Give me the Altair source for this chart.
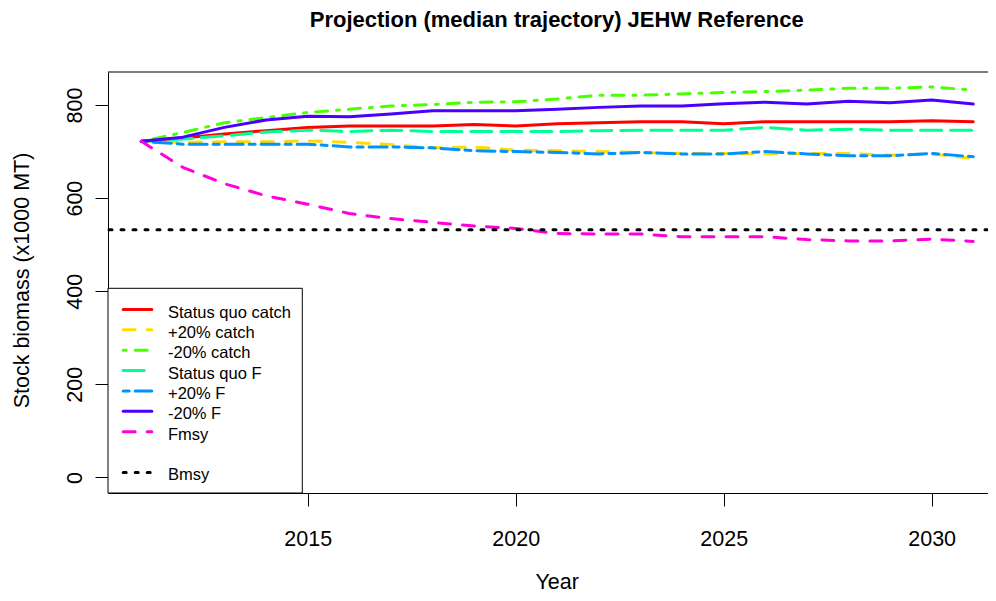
import altair as alt
import pandas as pd

# ---------------- data ----------------
years = list(range(2011, 2032))

status_quo_catch = [722, 729, 738, 745, 752, 755, 755, 755, 758, 755, 760, 762, 764, 764, 760, 764, 764, 764, 764, 766, 764]
plus20_catch     = [722, 720, 721, 721, 723, 720, 715, 708, 710, 703, 702, 700, 698, 696, 696, 695, 696, 696, 692, 695, 685]
minus20_catch    = [722, 741, 762, 773, 784, 791, 798, 801, 806, 807, 813, 821, 821, 824, 827, 829, 832, 836, 836, 839, 832]
status_quo_F     = [722, 727, 734, 742, 746, 743, 746, 743, 743, 743, 743, 745, 746, 746, 746, 752, 746, 748, 746, 746, 746]
plus20_F         = [722, 716, 716, 716, 716, 710, 710, 708, 702, 700, 698, 695, 698, 695, 695, 700, 695, 691, 691, 696, 689]
minus20_F        = [722, 731, 752, 768, 776, 775, 781, 788, 788, 788, 791, 795, 798, 798, 803, 806, 802, 808, 805, 811, 802]
fmsy             = [722, 666, 631, 605, 587, 567, 556, 548, 540, 535, 524, 523, 523, 517, 517, 517, 511, 508, 508, 512, 507]
bmsy = 532

series_names = ["Status quo catch", "+20% catch", "-20% catch", "Status quo F", "+20% F", "-20% F", "Fmsy"]
series_values = [status_quo_catch, plus20_catch, minus20_catch, status_quo_F, plus20_F, minus20_F, fmsy]
series_colors = ["#FF0000", "#FFDB00", "#49FF00", "#00FF92", "#0092FF", "#4900FF", "#FF00DB"]
series_dashes = [None, [12, 12], [3, 9, 12, 9], [21, 9], [6, 6, 18, 6], None, [12, 12]]
bmsy_label = "Bmsy"
bmsy_dash = [3, 9]

x_ticks = [2015, 2020, 2025, 2030]
y_ticks = [0, 200, 400, 600, 800]

title_text = "Projection (median trajectory) JEHW Reference"
x_title = "Year"
y_title = "Stock biomass (x1000 MT)"

# ---------------- style ----------------
FONT = "Liberation Sans"
W, H = 880, 421
LW = 3

xscale = alt.Scale(domain=[2010.2, 2031.354], nice=False, zero=False)
yscale = alt.Scale(domain=[-33.5, 871], nice=False, zero=False)

xaxis = alt.Axis(values=x_ticks, format="d", grid=False, domain=True, domainColor="black",
                 domainWidth=1, ticks=True, tickColor="black", tickSize=13, tickWidth=1,
                 labelFont=FONT, labelFontSize=21.5, labelColor="black",
                 labelBaseline="alphabetic", labelPadding=39, labelFlush=False,
                 labelOverlap=False, title=x_title, titleFont=FONT, titleFontSize=21.5,
                 titleFontWeight="normal", titleColor="black", titleX=448.7, titleY=95,
                 titleBaseline="alphabetic", titleAlign="center")
yaxis = alt.Axis(values=y_ticks, grid=False, domain=True, domainColor="black",
                 domainWidth=1, ticks=True, tickColor="black", tickSize=13, tickWidth=1,
                 labelFont=FONT, labelFontSize=21.5, labelColor="black", labelAngle=270,
                 labelAlign="center", labelBaseline="alphabetic", labelPadding=13.5,
                 labelOverlap=False, labelFlush=False,
                 title=y_title, titleFont=FONT, titleFontSize=21.5, titleFontWeight="normal",
                 titleColor="black", titleAngle=270, titleX=-79.3, titleY=208,
                 titleAlign="center", titleBaseline="alphabetic")

one = pd.DataFrame({"a": [0]})
layers = []

# top border of the plot box
layers.append(alt.Chart(one).mark_rule(color="black", strokeWidth=1).encode(
    x=alt.value(0), x2=alt.value(W), y=alt.value(0)))

# series lines
for name, vals, col, dash in zip(series_names, series_values, series_colors, series_dashes):
    df = pd.DataFrame({"year": years, "value": vals})
    kw = dict(color=col, strokeWidth=LW, strokeCap="round", strokeJoin="round", clip=True)
    if dash:
        kw["strokeDash"] = dash
    layers.append(alt.Chart(df).mark_line(**kw).encode(
        x=alt.X("year:Q", scale=xscale, axis=xaxis),
        y=alt.Y("value:Q", scale=yscale, axis=yaxis)))

# Bmsy reference line
layers.append(alt.Chart(pd.DataFrame({"v": [bmsy]})).mark_rule(
    color="black", strokeWidth=LW, strokeCap="round", strokeDash=bmsy_dash).encode(
    y=alt.Y("v:Q", scale=yscale, axis=yaxis)))

# ---------------- legend (drawn by hand) ----------------
LEG_TOP, LEG_RIGHT = 216.3, 194.3
ROW0, ROWH = 237.5, 20.37
layers.append(alt.Chart(one).mark_rect(fill="white", stroke="black", strokeWidth=1).encode(
    x=alt.value(0), x2=alt.value(LEG_RIGHT), y=alt.value(LEG_TOP), y2=alt.value(H)))

leg_names = series_names + ["", bmsy_label]
leg_colors = series_colors + [None, "black"]
leg_dashes = series_dashes + [None, bmsy_dash]
for i, (nm, col, dash) in enumerate(zip(leg_names, leg_colors, leg_dashes)):
    if not nm:
        continue
    yy = ROW0 + ROWH * i
    kw = dict(color=col, strokeWidth=LW, strokeCap="round")
    if dash:
        kw["strokeDash"] = dash
    layers.append(alt.Chart(one).mark_rule(**kw).encode(
        x=alt.value(15.2), x2=alt.value(43.8), y=alt.value(yy)))
    layers.append(alt.Chart(one).mark_text(
        text=nm, font=FONT, fontSize=16.5, color="black", align="left",
        baseline="alphabetic").encode(x=alt.value(60), y=alt.value(yy + 8)))

chart = alt.layer(*layers).properties(
    width=W, height=H,
    title=alt.TitleParams(text=title_text, font=FONT, fontSize=22, fontWeight="bold",
                          color="black", anchor="middle", frame="group",
                          baseline="alphabetic", offset=23, dx=8.7),
    padding={"left": 100, "top": 64, "right": 0, "bottom": 100},
    autosize=alt.AutoSizeParams(type="none"),
    background="white",
).configure_view(stroke=None)

chart.save("out.html", embed_options={"renderer": "svg", "actions": False})
